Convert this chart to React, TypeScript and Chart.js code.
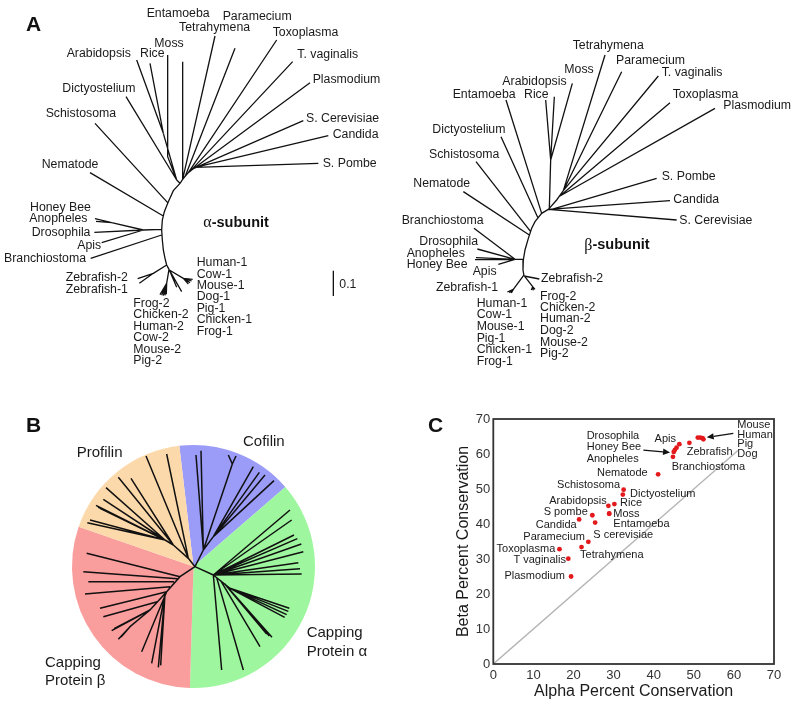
import React, { useEffect, useRef } from "react";
import { Chart, registerables } from "chart.js";

Chart.register(...registerables);

const SANS = "'Liberation Sans', Arial, Helvetica, sans-serif";
const SERIF = "'Liberation Serif', 'Times New Roman', serif";

// ---------------- Panel C: conservation scatter ----------------
const species = [
  "Mouse", "Human", "Pig", "Dog", "Zebrafish", "Apis", "Drosophila", "Honey Bee", "Anopheles",
  "Branchiostoma", "Nematode", "Schistosoma", "Dictyostelium", "Arabidopsis", "Rice", "S pombe",
  "Moss", "Entamoeba", "Candida", "S cerevisiae", "Paramecium", "Tetrahymena", "Toxoplasma",
  "T vaginalis", "Plasmodium",
];
const alphaConservation = [
  51.0, 51.6, 52.2, 52.4, 48.9, 46.4, 45.7, 45.3, 45.0,
  44.8, 41.1, 32.5, 32.3, 28.7, 30.2, 24.7,
  28.9, 28.9, 21.4, 25.4, 23.7, 22.0, 16.5,
  18.7, 19.4,
];
const betaConservation = [
  64.7, 64.7, 64.5, 64.2, 63.2, 62.8, 61.8, 61.2, 60.6,
  59.2, 54.2, 49.8, 48.4, 45.2, 45.7, 42.5,
  43.0, 42.9, 41.3, 40.4, 34.9, 33.4, 32.8,
  30.1, 25.0,
];
const conservationTicks = [0, 10, 20, 30, 40, 50, 60, 70];
const identityLine = [0, 61];

// label placement (pixel offset from the point, alignment)
const speciesLabelLayout: [number, number, CanvasTextAlign][] = [
  [39.5, -12.5, "left"], [37.1, -3, "left"], [34.7, 5.8, "left"], [33.9, 14.8, "left"],
  [-2.7, 9.6, "left"], [-3.4, -4.8, "right"], [-89.9, -11.9, "left"], [-88.2, -2.4, "left"],
  [-87.1, 6.9, "left"], [-1.2, 10, "left"], [-10.4, -0.9, "right"], [-3.6, -4.8, "right"],
  [7.2, -0.7, "left"], [-1.7, -4.9, "right"], [5.6, -0.6, "left"], [-4.6, -3.3, "right"],
  [4.1, 0, "left"], [4.1, 10.6, "left"], [-2.4, 5.5, "right"], [-1.9, 11.9, "left"],
  [-3.3, -4.6, "right"], [-1.5, 7.5, "left"], [-4.2, -0.2, "right"], [-2.3, 1.6, "right"],
  [-6.1, -0.2, "right"],
];
const speciesArrows = [
  { at: "Pig", from: [30.7, -4.9], to: [4.1, -0.9] },
  { at: "Honey Bee", from: [-31.6, 0.3], to: [-4.9, 2.6] },
];

// ---------------- Panel B: protein family pie ----------------
const familyNames = ["Cofilin", "Capping Protein α", "Capping Protein β", "Profilin"];
const familyShare = [55.8, 132.6, 107.4, 64.2];
const familyColors = ["#9b9bf8", "#9ef79e", "#fa9d9d", "#fcd9aa"];
const pieRotation = -6.7;
const familyLabelLayout = [
  { lines: ["Cofilin"], x: 243, y: 61.7 },
  { lines: ["Capping", "Protein α"], x: 306.7, y: 253.3 },
  { lines: ["Capping", "Protein β"], x: 45, y: 282.7 },
  { lines: ["Profilin"], x: 76.7, y: 72.7 },
];

const pieTreeBranches: number[][] = [
  // Cofilin
  [375, 380, 400, 330], [400, 330, 378, 45], [400, 330, 393, 32], [400, 330, 487, 72],
  [487, 72, 475, 45], [487, 72, 498, 48], [400, 330, 430, 290], [430, 290, 550, 80],
  [430, 290, 568, 97], [430, 290, 585, 105], [430, 290, 612, 122],
  // Profilin
  [375, 380, 355, 355], [355, 355, 228, 48], [355, 355, 290, 42], [355, 355, 310, 315],
  [310, 315, 145, 112], [310, 315, 183, 115], [310, 315, 285, 300], [285, 300, 108, 143],
  [285, 300, 100, 178], [285, 300, 78, 196], [285, 300, 84, 201], [285, 300, 90, 205],
  [285, 300, 60, 240], [285, 300, 52, 248],
  // Capping protein alpha
  [375, 380, 430, 405],
  [430, 405, 660, 210], [430, 405, 665, 240], [430, 405, 672, 285], [430, 405, 682, 296],
  [430, 405, 694, 312], [430, 405, 700, 335], [430, 405, 685, 368], [430, 405, 690, 386],
  [430, 405, 695, 402], [430, 405, 480, 445], [430, 405, 455, 690], [440, 413, 520, 690],
  [452, 422, 570, 620], [465, 433, 590, 582], [465, 433, 598, 588], [465, 433, 606, 592],
  [480, 445, 658, 505], [480, 445, 655, 514], [480, 445, 650, 524], [480, 445, 644, 532],
  // Capping protein beta
  [375, 380, 330, 410, 290, 455, 240, 510, 180, 560],
  [330, 410, 50, 340], [322, 416, 40, 395], [312, 425, 55, 425], [300, 440, 45, 462],
  [290, 455, 90, 505], [262, 485, 100, 530], [240, 510, 125, 572], [240, 510, 132, 566],
  [180, 560, 145, 598], [180, 560, 152, 592], [180, 560, 156, 588],
  [290, 455, 215, 635], [285, 462, 245, 670], [285, 462, 265, 682], [285, 462, 272, 676],
];

// ---------------- Panel A: alpha / beta subunit trees ----------------
const alphaTreeBranches: number[][] = [
  [540, 550, 520, 572, 505, 605, 493, 635, 487, 660, 485, 690, 487, 720, 490, 750, 495, 775, 500, 795, 507, 808],
  [540, 550, 548, 538, 556, 528, 565, 518, 575, 510, 585, 502],
  [548, 538, 645, 108], [556, 528, 705, 145], [565, 518, 830, 120], [570, 514, 878, 185],
  [575, 510, 930, 248], [580, 506, 910, 362], [585, 502, 985, 407], [585, 502, 955, 490],
  [540, 550, 530, 540], [530, 540, 378, 290], [530, 540, 490, 400], [490, 400, 410, 180],
  [490, 400, 450, 190], [530, 540, 503, 470, 503, 165], [548, 538, 548, 185],
  [505, 610, 285, 370], [490, 648, 270, 518],
  [485, 688, 430, 690], [430, 690, 335, 668], [335, 668, 285, 656], [335, 668, 288, 664],
  [430, 690, 283, 697], [430, 690, 305, 728],
  [485, 705, 272, 775],
  [500, 795, 460, 820], [460, 820, 413, 836], [460, 820, 418, 850],
  [507, 808, 500, 850], [500, 850, 480, 884], [500, 850, 485, 886], [500, 850, 490, 887],
  [500, 850, 495, 886], [500, 850, 499, 883],
  [507, 808, 545, 875], [509, 812, 530, 862], [508, 810, 550, 835], [550, 835, 575, 843],
  [550, 835, 578, 838], [550, 835, 570, 848], [550, 835, 565, 852],
  [1000, 812, 1000, 888],
];
const alphaTreeLeaves: [string, number, number][] = [
  ["Entamoeba", 440, 40], ["Paramecium", 668, 50], ["Tetrahymena", 537, 83], ["Toxoplasma", 818, 97],
  ["Moss", 463, 130], ["Arabidopsis", 200, 160], ["Rice", 420, 160], ["T. vaginalis", 892, 165],
  ["Plasmodium", 938, 240], ["Dictyostelium", 187, 267], ["Schistosoma", 137, 340],
  ["S. Cerevisiae", 918, 355], ["Candida", 998, 403], ["S. Pombe", 968, 490], ["Nematode", 125, 495],
  ["Honey Bee", 90, 623], ["Anopheles", 88, 657], ["Drosophila", 95, 697], ["Apis", 232, 738],
  ["Branchiostoma", 12, 775], ["Human-1", 590, 788], ["Cow-1", 590, 823], ["Mouse-1", 590, 857],
  ["Dog-1", 590, 890], ["Pig-1", 590, 925], ["Chicken-1", 590, 960], ["Frog-1", 590, 995],
  ["Zebrafish-2", 197, 832], ["Zebrafish-1", 197, 870], ["Frog-2", 400, 910], ["Chicken-2", 400, 945],
  ["Human-2", 400, 980], ["Cow-2", 400, 1013], ["Mouse-2", 400, 1048], ["Pig-2", 400, 1082],
  ["0.1", 1018, 855],
];

const betaTreeBranches: number[][] = [
  [445, 628, 425, 640, 405, 665, 395, 685, 385, 715, 375, 750, 370, 780, 369, 810, 372, 828],
  [445, 628, 470, 600, 490, 572],
  [490, 572, 615, 165], [490, 572, 665, 215], [490, 572, 775, 228], [480, 588, 810, 308],
  [480, 588, 945, 325], [455, 628, 770, 535], [445, 628, 810, 602], [445, 628, 830, 660],
  [448, 625, 452, 480], [452, 480, 437, 300], [452, 480, 463, 290], [452, 480, 517, 250],
  [425, 640, 318, 300], [413, 652, 303, 410], [392, 695, 228, 485], [388, 705, 190, 575],
  [370, 778, 345, 778], [345, 778, 222, 685], [345, 778, 232, 747], [345, 778, 228, 773],
  [345, 778, 225, 779], [345, 778, 295, 793],
  [371, 826, 340, 868], [340, 868, 322, 876], [340, 868, 328, 878], [340, 868, 334, 879],
  [372, 828, 418, 837], [374, 829, 398, 860], [398, 860, 394, 870], [398, 860, 400, 871],
  [398, 860, 405, 868],
];
const betaTreeLeaves: [string, number, number][] = [
  ["Tetrahymena", 518, 138], ["Paramecium", 648, 182], ["Moss", 493, 210], ["T. vaginalis", 785, 218],
  ["Arabidopsis", 307, 245], ["Entamoeba", 158, 283], ["Rice", 372, 283], ["Toxoplasma", 818, 283],
  ["Plasmodium", 970, 318], ["Dictyostelium", 97, 388], ["Schistosoma", 87, 463],
  ["S. Pombe", 785, 530], ["Nematode", 40, 550], ["Candida", 820, 600], ["Branchiostoma", 5, 663],
  ["S. Cerevisiae", 838, 663], ["Drosophila", 58, 725], ["Anopheles", 20, 760], ["Honey Bee", 20, 795],
  ["Apis", 218, 815], ["Zebrafish-2", 423, 835], ["Zebrafish-1", 108, 863], ["Frog-2", 420, 890],
  ["Chicken-2", 420, 923], ["Human-2", 420, 957], ["Dog-2", 420, 993], ["Mouse-2", 420, 1027],
  ["Pig-2", 420, 1060], ["Human-1", 230, 912], ["Cow-1", 230, 945], ["Mouse-1", 230, 980],
  ["Pig-1", 230, 1015], ["Chicken-1", 230, 1050], ["Frog-1", 230, 1085],
];

// ---------------- helpers ----------------
type Pt = { x: number | null; y: number | null };
function toSegments(lines: number[][]): Pt[] {
  const pts: Pt[] = [];
  lines.forEach((l, i) => {
    if (i > 0) pts.push({ x: null, y: null });
    for (let k = 0; k < l.length; k += 2) pts.push({ x: l[k], y: l[k + 1] });
  });
  return pts;
}

function useChart(build: (c: HTMLCanvasElement) => Chart) {
  const ref = useRef<HTMLCanvasElement>(null);
  useEffect(() => {
    if (!ref.current) return;
    const chart = build(ref.current);
    return () => chart.destroy();
  }, []);
  return ref;
}

type Decorate = (ctx: CanvasRenderingContext2D, sx: (v: number) => number, sy: (v: number) => number) => void;

function TreePanel(props: {
  left: number; top: number; width: number; height: number;
  branches: number[][]; leaves: [string, number, number][];
  xMax: number; yMax: number; lineWidth: number; fontSize: number; decorate?: Decorate;
}) {
  const ref = useChart((canvas) =>
    new Chart(canvas, {
      type: "scatter",
      data: {
        datasets: [
          {
            label: "branches",
            data: toSegments(props.branches) as any,
            showLine: true,
            borderColor: "#111",
            backgroundColor: "#111",
            borderWidth: props.lineWidth,
            pointRadius: 0,
            pointHoverRadius: 0,
            spanGaps: false,
            tension: 0,
          },
        ],
      },
      options: {
        responsive: false,
        animation: false,
        devicePixelRatio: 1,
        events: [],
        layout: { padding: 0 },
        plugins: { legend: { display: false }, tooltip: { enabled: false } },
        scales: {
          x: { type: "linear", display: false, min: 0, max: props.xMax },
          y: { type: "linear", display: false, min: 0, max: props.yMax, reverse: true },
        },
      },
      plugins: [
        {
          id: "treeText",
          afterDatasetsDraw(chart: any) {
            const ctx = chart.ctx as CanvasRenderingContext2D;
            const sx = (v: number) => chart.scales.x.getPixelForValue(v);
            const sy = (v: number) => chart.scales.y.getPixelForValue(v);
            ctx.save();
            ctx.fillStyle = "#1a1a1a";
            ctx.textBaseline = "middle";
            ctx.textAlign = "left";
            ctx.font = `${props.fontSize}px ${SANS}`;
            props.leaves.forEach(([t, x, y]) => ctx.fillText(t, sx(x), sy(y)));
            if (props.decorate) props.decorate(ctx, sx, sy);
            ctx.restore();
          },
        },
      ],
    })
  );
  return (
    <canvas
      ref={ref}
      width={props.width}
      height={props.height}
      style={{ position: "absolute", left: props.left, top: props.top }}
    />
  );
}

function subunitTitle(greek: string, x: number, y: number): Decorate {
  return (ctx, sx, sy) => {
    const px = sx(x);
    const py = sy(y);
    ctx.fillStyle = "#111";
    ctx.textAlign = "left";
    ctx.textBaseline = "middle";
    ctx.font = `16px ${SERIF}`;
    ctx.fillText(greek, px, py);
    const w = ctx.measureText(greek).width;
    ctx.font = `bold 14.5px ${SANS}`;
    ctx.fillText("-subunit", px + w, py);
  };
}

const alphaDecorate: Decorate = (ctx, sx, sy) => {
  ctx.font = `bold 21px ${SANS}`;
  ctx.fillStyle = "#111";
  ctx.fillText("A", 26, 25);
  subunitTitle("α", 610, 668)(ctx, sx, sy);
};
const betaDecorate: Decorate = (ctx, sx, sy) => {
  subunitTitle("β", 553, 736)(ctx, sx, sy);
};

// ---------------- Panel B ----------------
function FamilyPie() {
  const ref = useChart((canvas) =>
    new Chart(canvas, {
      type: "pie",
      data: {
        labels: familyNames,
        datasets: [
          {
            data: familyShare,
            backgroundColor: familyColors,
            borderWidth: 0,
            hoverOffset: 0,
            offset: 0,
          } as any,
        ],
      },
      options: {
        responsive: false,
        animation: false,
        devicePixelRatio: 1,
        events: [],
        rotation: pieRotation,
        layout: { padding: { left: 72, top: 65, right: 85, bottom: 18 } },
        plugins: { legend: { display: false }, tooltip: { enabled: false } },
      },
      plugins: [
        {
          id: "pieText",
          afterDatasetsDraw(chart: any) {
            const ctx = chart.ctx as CanvasRenderingContext2D;
            ctx.save();
            ctx.fillStyle = "#111";
            ctx.textBaseline = "middle";
            ctx.textAlign = "left";
            ctx.font = `bold 21px ${SANS}`;
            ctx.fillText("B", 26, 46.7);
            ctx.font = `15px ${SANS}`;
            ctx.fillStyle = "#1a1a1a";
            familyLabelLayout.forEach((l) => {
              l.lines.forEach((line, i) => ctx.fillText(line, l.x, l.y + i * 18.2));
            });
            ctx.restore();
          },
        },
      ],
    })
  );
  return <canvas ref={ref} width={400} height={326} style={{ position: "absolute", left: 0, top: 380 }} />;
}

// ---------------- Panel C ----------------
function ConservationScatter() {
  const ref = useChart((canvas) => {
    const points = species.map((_, i) => ({ x: alphaConservation[i], y: betaConservation[i] }));
    const lo = conservationTicks[0];
    const hi = conservationTicks[conservationTicks.length - 1];
    const step = conservationTicks[1] - conservationTicks[0];
    const tickFont = { size: 13, family: SANS };
    return new Chart(canvas, {
      type: "scatter",
      data: {
        datasets: [
          {
            label: "Species",
            data: points,
            backgroundColor: "#e3191c",
            borderWidth: 0,
            pointRadius: 2.4,
            pointHoverRadius: 2.4,
          },
          {
            label: "Equal conservation",
            data: identityLine.map((v) => ({ x: v, y: v })),
            showLine: true,
            borderColor: "#b5b5b5",
            borderWidth: 1.4,
            pointRadius: 0,
            pointHoverRadius: 0,
          },
        ],
      },
      options: {
        responsive: false,
        animation: false,
        devicePixelRatio: 1,
        events: [],
        layout: { padding: { left: 0, top: 39, right: 26, bottom: 0 } },
        plugins: { legend: { display: false }, tooltip: { enabled: false } },
        scales: {
          x: {
            type: "linear",
            min: lo,
            max: hi,
            ticks: { stepSize: step, color: "#333", font: tickFont, padding: 4, maxRotation: 0 },
            grid: { display: false, drawTicks: false },
            border: { display: false },
            title: {
              display: true,
              text: "Alpha Percent Conservation",
              color: "#1a1a1a",
              font: { size: 16, family: SANS },
              padding: { top: 0, bottom: 5 },
            },
            afterFit: (s: any) => {
              s.height = 42;
            },
          },
          y: {
            type: "linear",
            min: lo,
            max: hi,
            ticks: { stepSize: step, color: "#333", font: tickFont, padding: 3 },
            grid: { display: false, drawTicks: false },
            border: { display: false },
            title: {
              display: true,
              text: "Beta Percent Conservation",
              color: "#1a1a1a",
              font: { size: 16, family: SANS },
              padding: { top: 53.7, bottom: 0 },
            },
            afterFit: (s: any) => {
              s.width = 93.3;
            },
          },
        },
      },
      plugins: [
        {
          id: "frameAndLabels",
          afterDatasetsDraw(chart: any) {
            const ctx = chart.ctx as CanvasRenderingContext2D;
            const a = chart.chartArea;
            ctx.save();
            ctx.strokeStyle = "#333";
            ctx.lineWidth = 1.8;
            ctx.strokeRect(a.left, a.top, a.right - a.left, a.bottom - a.top);

            const meta = chart.getDatasetMeta(0);
            ctx.font = `11px ${SANS}`;
            ctx.fillStyle = "#1a1a1a";
            ctx.textBaseline = "middle";
            species.forEach((name, i) => {
              const el = meta.data[i];
              const [dx, dy, align] = speciesLabelLayout[i];
              ctx.textAlign = align;
              ctx.fillText(name, el.x + dx, el.y + dy);
            });

            ctx.strokeStyle = "#111";
            ctx.fillStyle = "#111";
            ctx.lineWidth = 1.3;
            speciesArrows.forEach((ar) => {
              const el = meta.data[species.indexOf(ar.at)];
              const x1 = el.x + ar.from[0], y1 = el.y + ar.from[1];
              const x2 = el.x + ar.to[0], y2 = el.y + ar.to[1];
              const ang = Math.atan2(y2 - y1, x2 - x1);
              const hl = 7, hw = 3.2;
              const bx = x2 - hl * Math.cos(ang), by = y2 - hl * Math.sin(ang);
              ctx.beginPath();
              ctx.moveTo(x1, y1);
              ctx.lineTo(bx, by);
              ctx.stroke();
              ctx.beginPath();
              ctx.moveTo(x2, y2);
              ctx.lineTo(bx - hw * Math.sin(ang), by + hw * Math.cos(ang));
              ctx.lineTo(bx + hw * Math.sin(ang), by - hw * Math.cos(ang));
              ctx.closePath();
              ctx.fill();
            });

            ctx.font = `bold 21px ${SANS}`;
            ctx.textAlign = "left";
            ctx.fillText("C", 28, 46);
            ctx.restore();
          },
        },
      ],
    });
  });
  return <canvas ref={ref} width={400} height={326} style={{ position: "absolute", left: 400, top: 380 }} />;
}

export default function App() {
  return (
    <div
      style={{
        position: "absolute",
        left: 0,
        top: 0,
        width: 800,
        height: 706,
        background: "#fff",
        overflow: "hidden",
      }}
    >
      <TreePanel
        left={0} top={0} width={400} height={380}
        branches={alphaTreeBranches} leaves={alphaTreeLeaves}
        xMax={1200} yMax={1140} lineWidth={1.3} fontSize={12.3}
        decorate={alphaDecorate}
      />
      <TreePanel
        left={400} top={0} width={400} height={380}
        branches={betaTreeBranches} leaves={betaTreeLeaves}
        xMax={1200} yMax={1140} lineWidth={1.3} fontSize={12.3}
        decorate={betaDecorate}
      />
      <FamilyPie />
      <TreePanel
        left={70} top={440} width={250} height={250}
        branches={pieTreeBranches} leaves={[]}
        xMax={750} yMax={750} lineWidth={1.5} fontSize={12}
      />
      <ConservationScatter />
    </div>
  );
}
